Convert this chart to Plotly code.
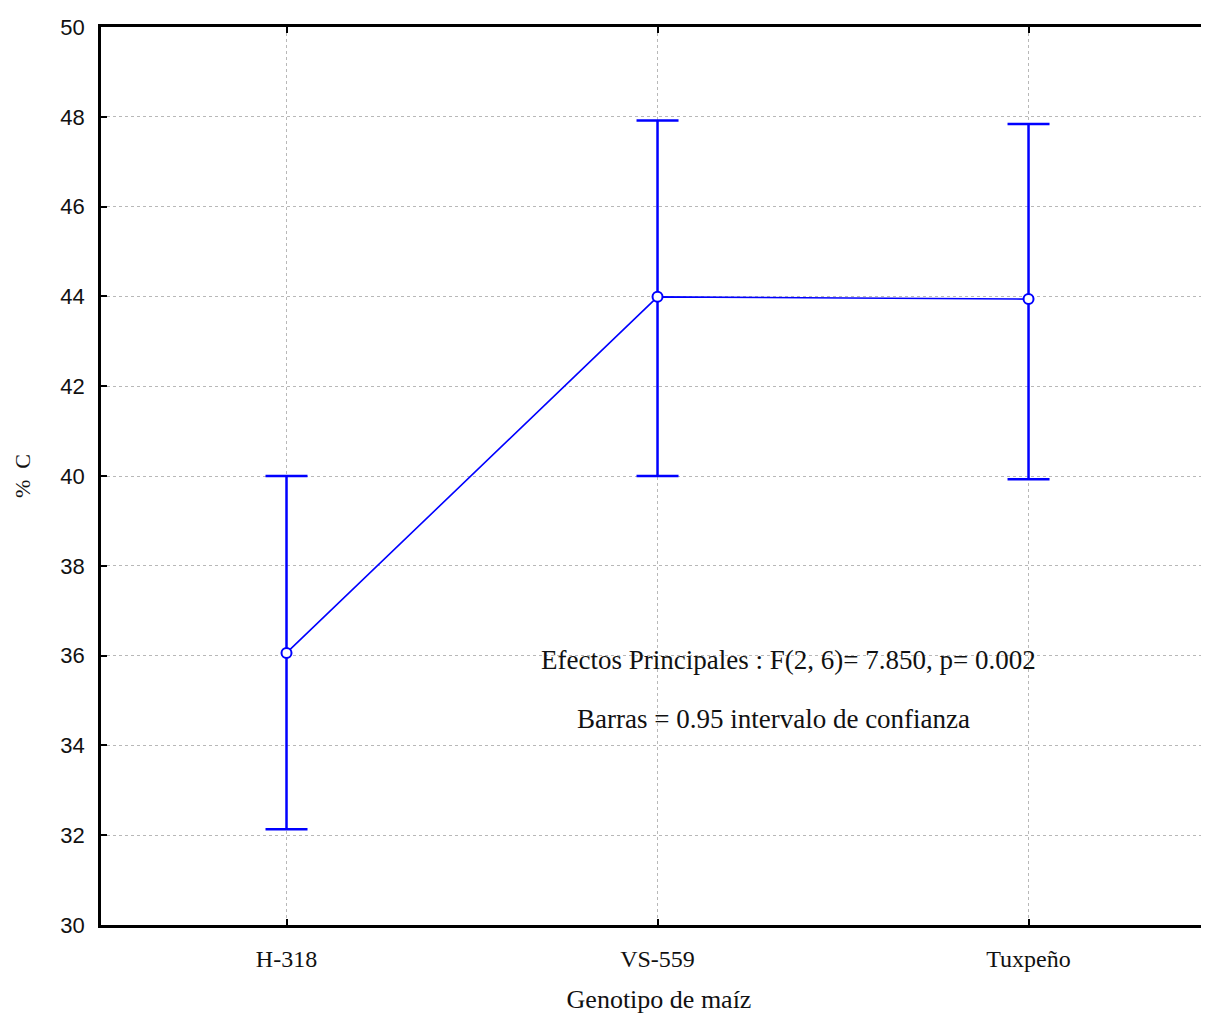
import plotly.graph_objects as go

categories = ["H-318", "VS-559", "Tuxpeño"]
means = [36.06, 43.99, 43.94]
ci_upper = [40.0, 47.92, 47.84]
ci_lower = [32.13, 40.0, 39.93]
y_ticks = [30, 32, 34, 36, 38, 40, 42, 44, 46, 48, 50]

err_plus = [u - m for u, m in zip(ci_upper, means)]
err_minus = [m - l for m, l in zip(means, ci_lower)]

BLUE = "#0000FF"
SERIF = "Liberation Serif, Times New Roman, serif"
NARROW = "Liberation Sans Narrow, Arial Narrow, Liberation Sans, sans-serif"

fig = go.Figure()
fig.add_trace(go.Scatter(
    x=categories, y=means, mode="lines+markers",
    line=dict(color=BLUE, width=1.6),
    marker=dict(symbol="circle", size=10, color="white",
                line=dict(color=BLUE, width=2)),
    error_y=dict(type="data", symmetric=False, array=err_plus,
                 arrayminus=err_minus, color=BLUE, thickness=2.5, width=21),
    showlegend=False, hoverinfo="x+y",
))

fig.add_annotation(text="Efectos Principales : F(2, 6)= 7.850, p= 0.002",
                   xref="paper", yref="paper", x=0.6156, y=0.2762,
                   showarrow=False, font=dict(family=SERIF, size=27, color="#111"))
fig.add_annotation(text="Barras = 0.95 intervalo de confianza",
                   xref="paper", yref="paper", x=0.6026, y=0.2103,
                   showarrow=False, font=dict(family=SERIF, size=27, color="#111"))

fig.update_layout(
    width=1209, height=1017,
    margin=dict(l=93, r=0, t=19, b=100),
    paper_bgcolor="white", plot_bgcolor="white",
    xaxis=dict(
        type="category", range=[-0.5, 2.508],
        showline=True, linecolor="black", linewidth=2.5, mirror="ticks",
        ticks="inside", ticklen=6, tickwidth=2, tickcolor="black",
        showgrid=True, gridcolor="#b8b8b8", griddash="dot", gridwidth=1,
        tickfont=dict(family=SERIF, size=24, color="#111"),
        ticklabelstandoff=10,
        title=dict(text="Genotipo de maíz",
                   font=dict(family=SERIF, size=26, color="#111"), standoff=20),
        zeroline=False,
    ),
    yaxis=dict(
        range=[30, 50], tickvals=y_ticks,
        showline=True, linecolor="black", linewidth=2.5, mirror=False,
        ticks="inside", ticklen=6, tickwidth=2, tickcolor="black",
        showgrid=True, gridcolor="#b8b8b8", griddash="dot", gridwidth=1,
        tickfont=dict(family=NARROW, size=22, color="#111"),
        ticklabelstandoff=9,
        title=dict(text="%\u00a0\u00a0C", font=dict(family=SERIF, size=22, color="#111"),
                   standoff=24),
        zeroline=False,
    ),
)

fig.write_html("out.html")
